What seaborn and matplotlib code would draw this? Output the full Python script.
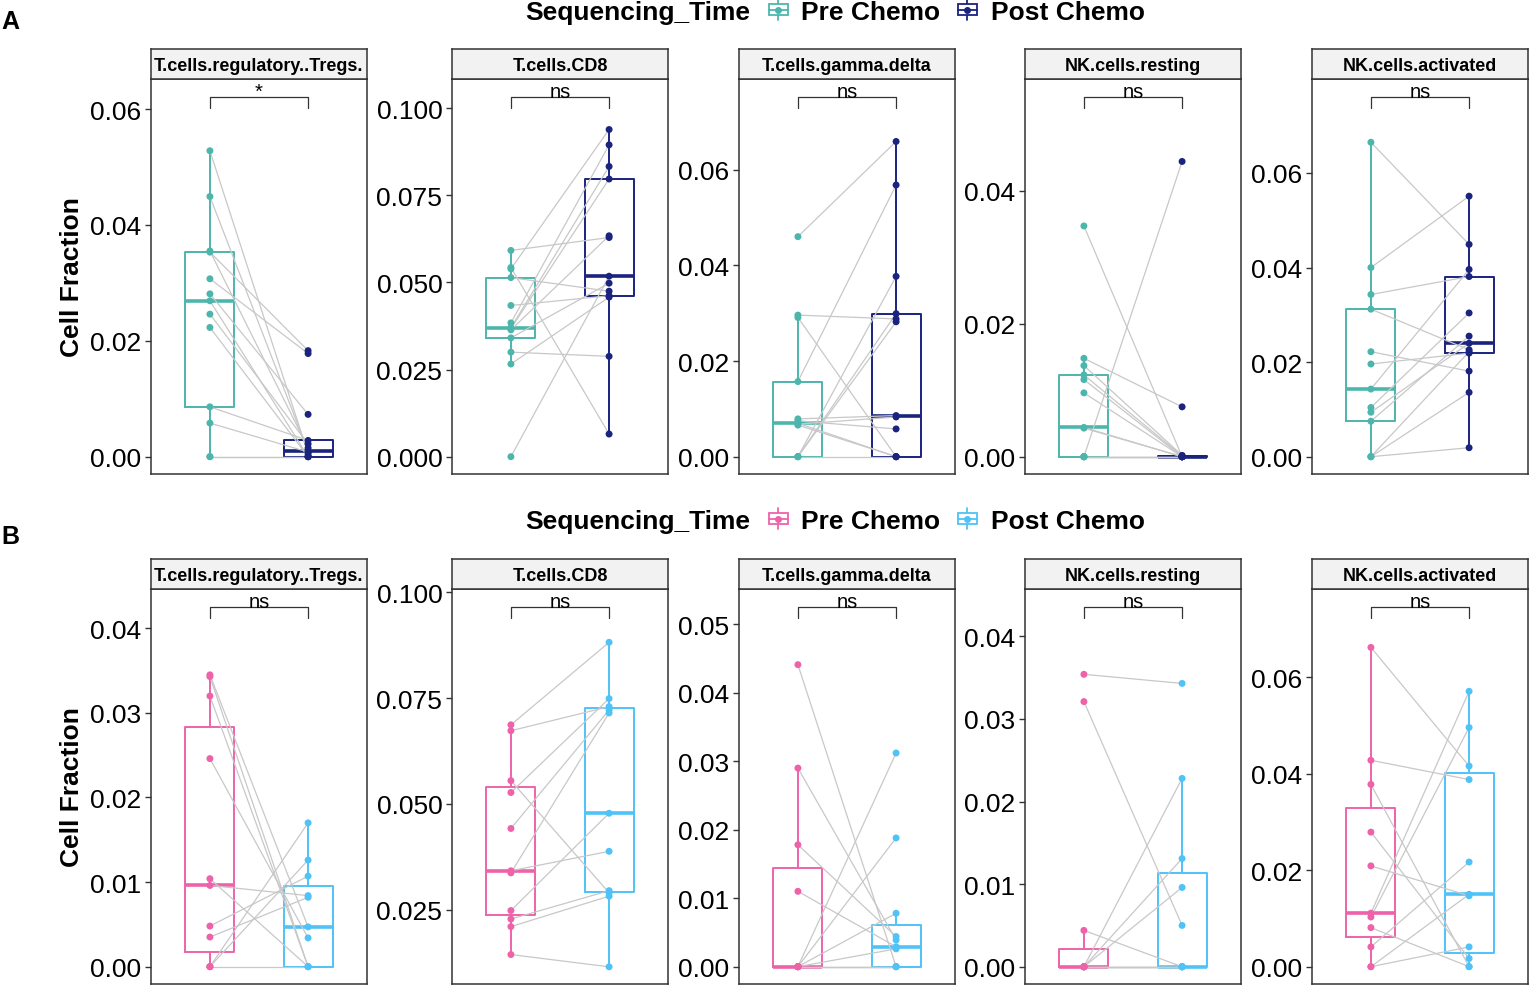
import matplotlib
matplotlib.use("Agg")
import matplotlib.pyplot as plt
import matplotlib.transforms as mtransforms
from matplotlib.patches import Patch, Rectangle
from matplotlib.lines import Line2D
from matplotlib.legend_handler import HandlerBase
from matplotlib.ticker import MultipleLocator, FormatStrFormatter
import pandas as pd
import seaborn as sns

sns.set_style("white")
plt.rcParams["font.family"] = ["Liberation Sans", "DejaVu Sans"]
plt.rcParams["text.color"] = "black"

# facets and groups
cell_types = ["T.cells.regulatory..Tregs.", "T.cells.CD8", "T.cells.gamma.delta",
              "NK.cells.resting", "NK.cells.activated"]
times = ["Pre Chemo", "Post Chemo"]

a_colors = ["#4DB6AC", "#1A237E"]
b_colors = ["#EE62AA", "#4FC3F7"]

# panel A: 13 paired samples (same patient order in pre and post)
a_tregs_pre = [0.0528, 0.0449, 0.0353, 0.0355, 0.0307, 0.0281, 0.0269, 0.0246, 0.0223, 0.0086, 0.0058, 0.0, 0.0]
a_tregs_post = [0.0005, 0.0009, 0.0183, 0.0015, 0.0178, 0.0073, 0.0, 0.0022, 0.0, 0.0028, 0.0008, 0.0, 0.0]
a_cd8_pre = [0.0592, 0.0543, 0.0539, 0.0514, 0.0434, 0.0384, 0.0370, 0.0368, 0.0364, 0.0341, 0.0300, 0.0266, 0.0]
a_cd8_post = [0.0629, 0.0065, 0.0939, 0.0475, 0.0462, 0.0895, 0.0833, 0.0797, 0.0634, 0.0498, 0.0288, 0.0458, 0.0518]
a_gd_pre = [0.0460, 0.0296, 0.0291, 0.0157, 0.0079, 0.0075, 0.0070, 0.0068, 0.0066, 0.0, 0.0, 0.0, 0.0]
a_gd_post = [0.0659, 0.0288, 0.0, 0.0568, 0.0086, 0.0058, 0.0, 0.0083, 0.0, 0.0377, 0.0299, 0.0282, 0.0]
a_nkr_pre = [0.0347, 0.0, 0.0148, 0.0137, 0.0123, 0.0116, 0.0096, 0.0044, 0.0043, 0.0, 0.0, 0.0, 0.0]
a_nkr_post = [0.0, 0.0444, 0.0075, 0.0002, 0.0001, 0.0, 0.0, 0.0, 0.0, 0.0, 0.0, 0.0, 0.0]
a_nka_pre = [0.0665, 0.0400, 0.0343, 0.0312, 0.0222, 0.0196, 0.0143, 0.0104, 0.0094, 0.0075, 0.0, 0.0, 0.0]
a_nka_post = [0.0449, 0.0551, 0.0381, 0.0226, 0.0181, 0.0219, 0.0396, 0.0304, 0.0240, 0.0255, 0.0222, 0.0136, 0.0019]

# panel B: 11 paired samples
b_tregs_pre = [0.0345, 0.0343, 0.0320, 0.0246, 0.0104, 0.0096, 0.0048, 0.0035, 0.0, 0.0, 0.0]
b_tregs_post = [0.0047, 0.0, 0.0, 0.0034, 0.0, 0.0084, 0.0107, 0.0082, 0.0170, 0.0126, 0.0]
b_cd8_pre = [0.0687, 0.0673, 0.0555, 0.0527, 0.0442, 0.0342, 0.0337, 0.0248, 0.0228, 0.0210, 0.0144]
b_cd8_post = [0.0882, 0.0730, 0.0290, 0.0749, 0.0722, 0.0388, 0.0715, 0.0478, 0.0295, 0.0282, 0.0115]
b_gd_pre = [0.0441, 0.0290, 0.0178, 0.0110, 0.0, 0.0, 0.0, 0.0, 0.0, 0.0, 0.0]
b_gd_post = [0.0, 0.0039, 0.0044, 0.0029, 0.0312, 0.0188, 0.0078, 0.0026, 0.0, 0.0, 0.0]
b_nkr_pre = [0.0354, 0.0321, 0.0044, 0.0, 0.0, 0.0, 0.0, 0.0, 0.0, 0.0, 0.0]
b_nkr_post = [0.0343, 0.0050, 0.0, 0.0228, 0.0131, 0.0096, 0.0, 0.0, 0.0, 0.0, 0.0]
b_nka_pre = [0.0662, 0.0428, 0.0378, 0.0279, 0.0209, 0.0111, 0.0103, 0.0081, 0.0041, 0.0, 0.0]
b_nka_post = [0.0416, 0.0388, 0.0, 0.0017, 0.0147, 0.0571, 0.0496, 0.0, 0.0217, 0.0041, 0.0150]

a_sig = ["*", "ns", "ns", "ns", "ns"]
b_sig = ["ns", "ns", "ns", "ns", "ns"]

# free y scales per facet
a_ylims = [(-0.00299, 0.06518), (-0.00497, 0.1084), (-0.00362, 0.07896), (-0.00260, 0.0568), (-0.00366, 0.07988)]
b_ylims = [(-0.00205, 0.04465), (0.00744, 0.1008), (-0.00253, 0.05515), (-0.00209, 0.04573), (-0.00359, 0.07831)]
a_steps = [0.02, 0.025, 0.02, 0.02, 0.02]
b_steps = [0.01, 0.025, 0.01, 0.01, 0.02]
decimals = [2, 3, 2, 2, 2]

a_pairs = [(a_tregs_pre, a_tregs_post), (a_cd8_pre, a_cd8_post), (a_gd_pre, a_gd_post),
           (a_nkr_pre, a_nkr_post), (a_nka_pre, a_nka_post)]
b_pairs = [(b_tregs_pre, b_tregs_post), (b_cd8_pre, b_cd8_post), (b_gd_pre, b_gd_post),
           (b_nkr_pre, b_nkr_post), (b_nka_pre, b_nka_post)]

W, H = 1529, 987
facet_left = [151, 452, 739, 1025, 1312]
facet_w, panel_h, strip_h = 216, 395, 30
edge = "#333333"


def px_box(left, top, width, height):
    return [left / W, 1 - (top + height) / H, width / W, height / H]


def long_frame(pre, post):
    n = len(pre)
    return pd.DataFrame({
        "patient": list(range(n)) * 2,
        "Sequencing_Time": [times[0]] * n + [times[1]] * n,
        "value": list(pre) + list(post),
    })


class BoxKey(HandlerBase):
    # small boxplot glyph like ggplot's legend key
    def create_artists(self, legend, orig_handle, xdescent, ydescent, width, height, fontsize, trans):
        c = orig_handle.get_edgecolor()
        x0, y0 = -xdescent, -ydescent
        cx, cy = x0 + width / 2, y0 + height / 2
        kw = dict(color=c, lw=1.3, transform=trans)
        return [
            Line2D([cx, cx], [y0 - 0.05 * height, y0 + 0.22 * height], **kw),
            Line2D([cx, cx], [y0 + 0.78 * height, y0 + 1.05 * height], **kw),
            Rectangle((x0 + 0.08 * width, y0 + 0.22 * height), 0.84 * width, 0.56 * height,
                      facecolor="white", edgecolor=c, lw=1.3, transform=trans),
            Line2D([x0 + 0.08 * width, x0 + 0.92 * width], [cy, cy], **kw),
            Line2D([cx], [cy], marker="o", ms=4, color=c, lw=0, transform=trans),
        ]


def draw_panel(ax, pre, post, colors, ylim, step, dec, sig):
    df = long_frame(pre, post)
    pal = dict(zip(times, colors))
    sns.boxplot(data=df, x="Sequencing_Time", y="value", hue="Sequencing_Time",
                order=times, hue_order=times, palette=pal, fill=False, width=0.5,
                linewidth=1.4, showfliers=False, medianprops={"linewidth": 2.6},
                capprops={"visible": False}, legend=False, ax=ax)
    for p in range(len(pre)):
        ax.plot([0, 1], [pre[p], post[p]], color="#C8C8C8", lw=0.9, zorder=3)
    sns.stripplot(data=df, x="Sequencing_Time", y="value", hue="Sequencing_Time",
                  order=times, hue_order=times, palette=pal, jitter=False, size=5,
                  linewidth=0, legend=False, ax=ax, zorder=4)
    ax.set_xlim(-0.6, 1.6)
    ax.set_ylim(*ylim)
    ax.yaxis.set_major_locator(MultipleLocator(step))
    ax.yaxis.set_major_formatter(FormatStrFormatter(f"%.{dec}f"))
    ax.set_xticks([])
    ax.set_xlabel("")
    ax.set_ylabel("")
    ax.tick_params(axis="y", left=True, length=4, width=1, color=edge,
                   labelsize=19, pad=3, labelcolor="black")
    for s in ax.spines.values():
        s.set_color(edge)
        s.set_linewidth(1.1)
    # comparison bracket
    tr = mtransforms.blended_transform_factory(ax.transData, ax.transAxes)
    ax.plot([0, 0, 1, 1], [0.927, 0.954, 0.954, 0.927], color=edge, lw=0.9,
            transform=tr, clip_on=False)
    ax.text(0.5, 0.954, sig, transform=tr, ha="center", va="baseline", fontsize=14.5)


fig = plt.figure(figsize=(15.29, 9.87), dpi=100)

rows = [
    (a_pairs, a_colors, a_ylims, a_steps, a_sig, 80, "A", 22, 13),
    (b_pairs, b_colors, b_ylims, b_steps, b_sig, 590, "B", 537, 522),
]

for pairs, colors, ylims, steps, sigs, top, tag, tag_y, leg_y in rows:
    for i, name in enumerate(cell_types):
        ax = fig.add_axes(px_box(facet_left[i], top, facet_w, panel_h))
        pre, post = pairs[i]
        draw_panel(ax, pre, post, colors, ylims[i], steps[i], decimals[i], sigs[i])

        sax = fig.add_axes(px_box(facet_left[i], top - strip_h, facet_w, strip_h))
        sax.set_facecolor("#F2F2F2")
        sax.set_xticks([])
        sax.set_yticks([])
        for s in sax.spines.values():
            s.set_color(edge)
            s.set_linewidth(1.1)
        sax.text(0.5, 0.45, name, transform=sax.transAxes, ha="center", va="center",
                 fontsize=13, fontweight="bold")

    fig.text(72 / W, 1 - (top + panel_h / 2) / H, "Cell Fraction", rotation=90,
             ha="center", va="center", fontsize=19, fontweight="bold")
    fig.text(10 / W, 1 - tag_y / H, tag, ha="center", va="center", fontsize=18, fontweight="bold")

    fig.text(525 / W, 1 - leg_y / H, "Sequencing_Time", ha="left", va="center",
             fontsize=19, fontweight="bold")
    handles = [Patch(facecolor="white", edgecolor=c) for c in colors]
    fig.legend(handles, times, handler_map={Patch: BoxKey()}, ncol=2,
               loc="center left", bbox_to_anchor=(767 / W, 1 - leg_y / H),
               frameon=False, prop={"size": 19, "weight": "bold"},
               handlelength=0.85, handleheight=0.75, handletextpad=0.45,
               columnspacing=0.6, borderaxespad=0, borderpad=0)

fig.savefig("out.png", dpi=100)
